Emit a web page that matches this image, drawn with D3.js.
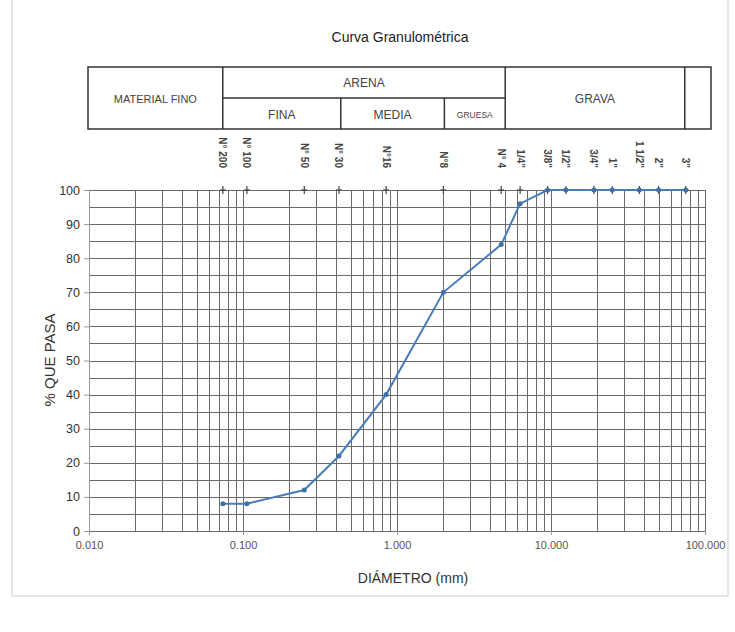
<!DOCTYPE html>
<html>
<head>
<meta charset="utf-8">
<script src="https://cdn.jsdelivr.net/npm/d3@7"></script>
<style>
  body { margin: 0; background: #fff; }
  text { font-family: Arial, "Liberation Sans", sans-serif; fill: #333; }
</style>
</head>
<body>
<div id="chart"></div>
<script>
// sieve data
var sieveLabels = ["N° 200", "N° 100", "N° 50", "N° 30", "N°16", "N°8", "N° 4", "1/4\"", "3/8\"", "1/2\"", "3/4\"", "1\"", "1 1/2\"", "2\"", "3\""];
var sieveSizes = [0.074, 0.106, 0.25, 0.42, 0.85, 2.0, 4.75, 6.3, 9.5, 12.5, 19, 25, 37.5, 50, 75];
var passPct = [8, 8, 12, 22, 40, 70, 84, 96, 100, 100, 100, 100, 100, 100, 100];

var xTicks = [0.01, 0.1, 1, 10, 100];
var yTicks = [0, 10, 20, 30, 40, 50, 60, 70, 80, 90, 100];

// soil classification header (diameter limits)
var zoneLimits = [0.01, 0.075, 0.425, 2.0, 4.75, 75];

var W = 735, H = 632;
var svg = d3.select("#chart").append("svg")
    .attr("width", W)
    .attr("height", H);

// outer frame
svg.append("rect")
    .attr("x", 12).attr("y", -2)
    .attr("width", 716).attr("height", 598)
    .attr("fill", "none")
    .attr("stroke", "#ccc");

var x = d3.scaleLog().domain([0.01, 100]).range([89, 705]);
var y = d3.scaleLinear().domain([0, 100]).range([531, 190]);

// title
svg.append("text")
    .attr("x", 400).attr("y", 42)
    .attr("text-anchor", "middle")
    .style("font-size", "14px")
    .style("fill", "#222")
    .text("Curva Granulométrica");

// header table
var tTop = 67, tMid = 98, tBot = 129, tRight = 711;
var hdr = svg.append("g").attr("stroke", "#333").attr("stroke-width", 1.5).attr("fill", "none");
var zx = zoneLimits.map(function(d) { return x(d) - 1; });
zx[0] = 88;
hdr.append("rect").attr("x", zx[0]).attr("y", tTop).attr("width", tRight - zx[0]).attr("height", tBot - tTop);
[zx[1], zx[4] + 5, zx[5]].forEach(function(px) {
    hdr.append("line").attr("x1", px).attr("x2", px).attr("y1", tTop).attr("y2", tBot);
});
hdr.append("line").attr("x1", zx[1]).attr("x2", zx[4] + 5).attr("y1", tMid).attr("y2", tMid);
[zx[2] + 2, zx[3] + 2].forEach(function(px) {
    hdr.append("line").attr("x1", px).attr("x2", px).attr("y1", tMid).attr("y2", tBot);
});

function hText(cx, cy, s, size) {
    svg.append("text")
        .attr("x", cx).attr("y", cy)
        .attr("text-anchor", "middle")
        .attr("dominant-baseline", "central")
        .style("font-size", size + "px")
        .style("fill", "#444")
        .text(s);
}
hText((zx[0] + zx[1]) / 2, 99, "MATERIAL FINO", 11);
hText((zx[1] + zx[4] + 5) / 2, 83, "ARENA", 12);
hText((zx[1] + zx[2] + 2) / 2, 115, "FINA", 12);
hText((zx[2] + zx[3] + 4) / 2, 115, "MEDIA", 12);
hText((zx[3] + 2 + zx[4] + 5) / 2, 115, "GRUESA", 8.5);
hText((zx[4] + 5 + zx[5]) / 2, 99, "GRAVA", 12);

// grid
var grid = svg.append("g").attr("stroke", "#6a6a6a").attr("stroke-width", 1);
var minor = [];
for (var e = -2; e < 2; e++) {
    for (var m = 1; m < 10; m++) minor.push(m * Math.pow(10, e));
}
minor.push(100);
grid.selectAll(".vx").data(minor).enter().append("line")
    .attr("x1", function(d) { return Math.round(x(d)) + 0.5; })
    .attr("x2", function(d) { return Math.round(x(d)) + 0.5; })
    .attr("y1", y(100)).attr("y2", y(0));
grid.selectAll(".hy").data(d3.range(0, 101, 5)).enter().append("line")
    .attr("x1", x(0.01)).attr("x2", x(100))
    .attr("y1", function(d) { return Math.round(y(d)) + 0.5; })
    .attr("y2", function(d) { return Math.round(y(d)) + 0.5; });

// axes
var yAxis = d3.axisLeft(y).tickValues(yTicks).tickSize(5).tickPadding(4);
var gy = svg.append("g").attr("transform", "translate(" + x(0.01) + ",0)").call(yAxis);
gy.select(".domain").attr("stroke", "#999");
gy.selectAll("line").attr("stroke", "#999");
gy.selectAll("text").style("font-size", "12.5px").style("fill", "#333");

var xAxis = d3.axisBottom(x).tickValues(xTicks).tickSize(4).tickPadding(6)
    .tickFormat(d3.format(".3f"));
var gx = svg.append("g").attr("transform", "translate(0," + y(0) + ")").call(xAxis);
gx.select(".domain").remove();
gx.selectAll("line").attr("stroke", "#999");
gx.selectAll("text").style("font-size", "11px").style("fill", "#555");

svg.append("text")
    .attr("x", 413).attr("y", 583)
    .attr("text-anchor", "middle")
    .style("font-size", "14px")
    .style("fill", "#333")
    .text("DIÁMETRO (mm)");

svg.append("text")
    .attr("transform", "translate(55,360) rotate(-90)")
    .attr("text-anchor", "middle")
    .style("font-size", "15px")
    .style("fill", "#333")
    .text("% QUE PASA");

// sieve labels (rotated) and "+" marks along the top
svg.selectAll(".slab").data(sieveSizes).enter().append("text")
    .attr("transform", function(d) { return "translate(" + (x(d) - 3.5) + ",168) rotate(90)"; })
    .attr("text-anchor", "end")
    .style("font-size", "10px")
    .style("font-weight", "bold")
    .style("fill", "#444")
    .text(function(d, i) { return sieveLabels[i]; });

var plus = svg.append("g").attr("stroke", "#444").attr("stroke-width", 1.2);
sieveSizes.forEach(function(d) {
    plus.append("line").attr("x1", x(d) - 3).attr("x2", x(d) + 3).attr("y1", y(100)).attr("y2", y(100));
    plus.append("line").attr("x1", x(d)).attr("x2", x(d)).attr("y1", y(100) - 4).attr("y2", y(100) + 4);
});

// curve
var pts = sieveSizes.map(function(d, i) { return [d, passPct[i]]; });
svg.append("path")
    .datum(pts)
    .attr("fill", "none")
    .attr("stroke", "#4a7db8")
    .attr("stroke-width", 2)
    .attr("d", d3.line().x(function(d) { return x(d[0]); }).y(function(d) { return y(d[1]); }));

svg.selectAll(".pt").data(pts).enter().append("circle")
    .attr("cx", function(d) { return x(d[0]); })
    .attr("cy", function(d) { return y(d[1]); })
    .attr("r", 2.5)
    .attr("fill", "#3f6fa8");
</script>
</body>
</html>
